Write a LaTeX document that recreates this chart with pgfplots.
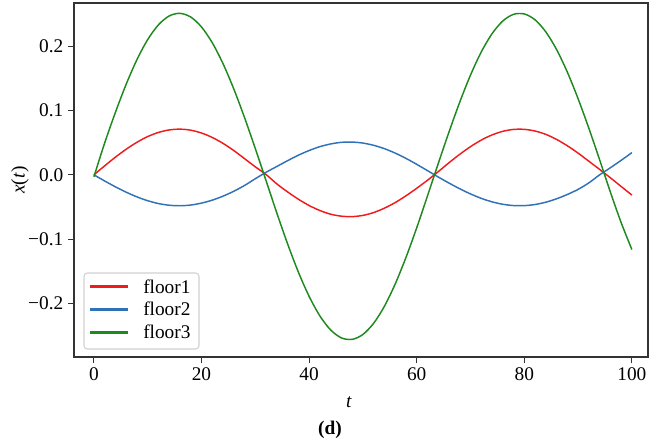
\documentclass[border=0pt]{standalone}
\usepackage{fontspec}
\setmainfont{Liberation Serif}
\usepackage{pgfplots}
\pgfplotsset{compat=1.18}
\definecolor{mred}{HTML}{EE1C1C}
\definecolor{mblue}{HTML}{2F72B8}
\definecolor{mgreen}{HTML}{1E8A1E}
\begin{document}
\begin{tikzpicture}
\path[use as bounding box] (-55.5pt,-65.25pt) rectangle (432pt,267.75pt);
\begin{axis}[
  name=ax,
  scale only axis,
  width=430.5pt, height=265.5pt,
  xmin=-3.7, xmax=103,
  ymin=-0.283, ymax=0.267,
  axis line style={black!80, line width=0.8pt},
  tick style={black!80, line width=0.8pt},
  tick align=outside,
  major tick length=4.5pt,
  xtick pos=lower, ytick pos=left,
  xtick={0,20,40,60,80,100},
  ytick={-0.2,-0.1,0,0.1,0.2},
  yticklabels={−0.2,−0.1,0.0,0.1,0.2},
  /pgf/number format/assume math mode=true,
  tick label style={font=\fontsize{14.5}{17}\selectfont},
  xlabel={\textit{t}},
  ylabel={\textit{x}(\textit{t})},
  label style={font=\fontsize{14.5}{17}\selectfont},
  xlabel style={at={(axis description cs:0.479,0)}, anchor=center, yshift=-33.75pt},
  ylabel style={at={(axis description cs:-0.094,0.5)}, anchor=center},
  every axis plot post/.append style={line width=1.1pt},
]
\addplot[color=mred, smooth] coordinates {
(0,0) (2,0.0140) (4,0.0275) (6,0.0398) (8,0.0506) (10,0.0595) (12,0.0659) (14,0.0698) (16,0.0710) (18,0.0694) (20,0.0650) (22,0.0581) (24,0.0489) (26,0.0378) (28,0.0252) (30,0.0125) (32,0.0005) (34,-0.0140) (36,-0.0265) (38,-0.0378) (40,-0.0476) (42,-0.0554) (44,-0.0611) (46,-0.0642) (48,-0.0649) (50,-0.0630) (52,-0.0586) (54,-0.0518) (56,-0.0431) (58,-0.0326) (60,-0.0209) (62,-0.0084) (64,0.0049) (66,0.0188) (68,0.0319) (70,0.0438) (72,0.0540) (74,0.0620) (76,0.0676) (78,0.0706) (80,0.0707) (82,0.0681) (84,0.0629) (86,0.0551) (88,0.0452) (90,0.0338) (92,0.0212) (94,0.0085) (96,-0.0045) (98,-0.0180) (100,-0.0314)
};
\addplot[color=mblue, smooth] coordinates {
(0,0) (2,-0.0095) (4,-0.0186) (6,-0.0269) (8,-0.0342) (10,-0.0402) (12,-0.0446) (14,-0.0472) (16,-0.0480) (18,-0.0469) (20,-0.0439) (22,-0.0393) (24,-0.0331) (26,-0.0255) (28,-0.0165) (30,-0.0060) (32,0.0040) (34,0.0130) (36,0.0220) (38,0.0305) (40,0.0378) (42,0.0438) (44,0.0480) (46,0.0505) (48,0.0509) (50,0.0494) (52,0.0459) (54,0.0407) (56,0.0338) (58,0.0256) (60,0.0164) (62,0.0066) (64,-0.0033) (66,-0.0127) (68,-0.0216) (70,-0.0296) (72,-0.0365) (74,-0.0419) (76,-0.0457) (78,-0.0477) (80,-0.0478) (82,-0.0461) (84,-0.0425) (86,-0.0372) (88,-0.0305) (90,-0.0226) (92,-0.0125) (94,0.0000) (96,0.0110) (98,0.0225) (100,0.0345)
};
\addplot[color=mgreen, smooth] coordinates {
(0,-0.003) (2,0.0495) (4,0.0971) (6,0.1408) (8,0.1790) (10,0.2102) (12,0.2331) (14,0.2469) (16,0.2509) (18,0.2452) (20,0.2298) (22,0.2053) (24,0.1728) (26,0.1335) (28,0.0890) (30,0.0409) (32,-0.0089) (34,-0.0592) (36,-0.1071) (38,-0.1509) (40,-0.1887) (42,-0.2191) (44,-0.2409) (46,-0.2533) (48,-0.2556) (50,-0.2480) (52,-0.2306) (54,-0.2042) (56,-0.1697) (58,-0.1285) (60,-0.0824) (62,-0.0329) (64,0.0174) (66,0.0664) (68,0.1129) (70,0.1549) (72,0.1909) (74,0.2192) (76,0.2390) (78,0.2494) (80,0.2500) (82,0.2409) (84,0.2222) (86,0.1948) (88,0.1597) (90,0.1184) (92,0.0725) (94,0.0236) (96,-0.0266) (98,-0.0740) (100,-0.1160)
};
\end{axis}
% legend
\draw[black!18, fill=white, rounded corners=2.5pt, line width=0.8pt]
  ([shift={(7.5pt,6pt)}]ax.south west) rectangle ([shift={(93.75pt,63pt)}]ax.south west);
\draw[mred, line width=1.6pt] ([shift={(12pt,52.875pt)}]ax.south west) -- ++(28.5pt,0pt);
\draw[mblue, line width=1.6pt] ([shift={(12pt,35.625pt)}]ax.south west) -- ++(28.5pt,0pt);
\draw[mgreen, line width=1.6pt] ([shift={(12pt,18.375pt)}]ax.south west) -- ++(28.5pt,0pt);
\node[anchor=base west, inner sep=0pt, font=\fontsize{14.5}{17}\selectfont] at ([shift={(51.75pt,47.7pt)}]ax.south west) {floor1};
\node[anchor=base west, inner sep=0pt, font=\fontsize{14.5}{17}\selectfont] at ([shift={(51.75pt,30.8pt)}]ax.south west) {floor2};
\node[anchor=base west, inner sep=0pt, font=\fontsize{14.5}{17}\selectfont] at ([shift={(51.75pt,13.95pt)}]ax.south west) {floor3};
\node[font=\fontsize{14.5}{17}\selectfont\bfseries, xshift=192pt, yshift=-55pt] at (ax.south west) {(d)};
\end{tikzpicture}
\end{document}
